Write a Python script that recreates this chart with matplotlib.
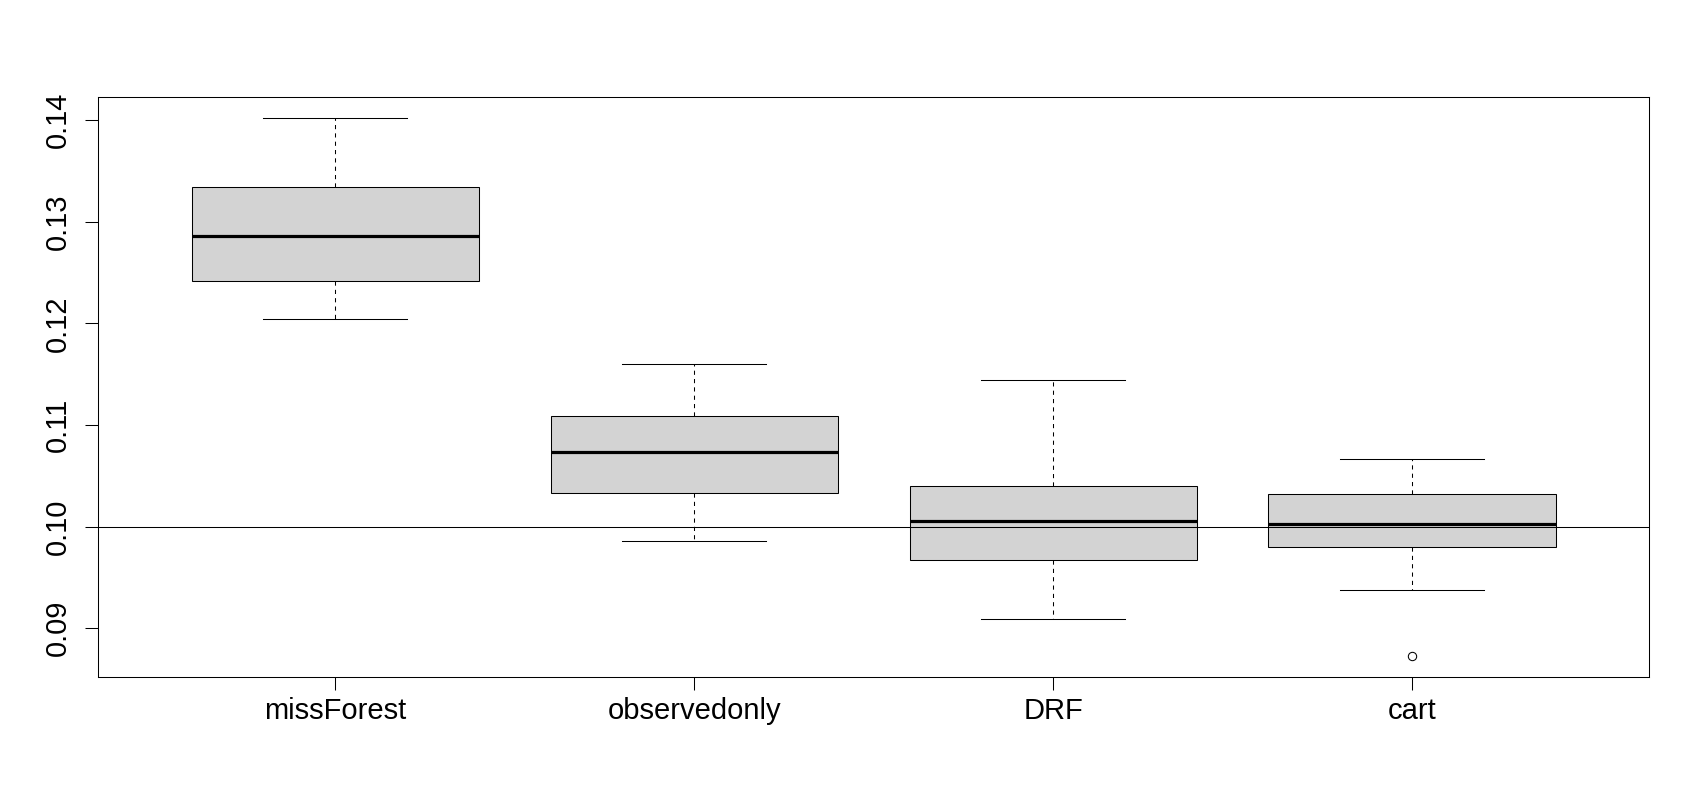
import matplotlib
matplotlib.use("Agg")
import matplotlib.pyplot as plt

plt.rcParams['font.family'] = ['Liberation Sans', 'DejaVu Sans']

# five-number summaries
methods = ['missForest', 'observedonly', 'DRF', 'cart']
whisk_lo = [0.12044, 0.09857, 0.09091, 0.09376]
q1 = [0.12419, 0.10330, 0.09672, 0.09800]
median = [0.12862, 0.10734, 0.10056, 0.10027]
q3 = [0.13345, 0.11089, 0.10401, 0.10322]
whisk_hi = [0.14015, 0.11601, 0.11444, 0.10667]
outliers = [[], [], [], [0.08729]]
ref_line = 0.10
yticks = [0.09, 0.10, 0.11, 0.12, 0.13, 0.14]

stats = []
for i, name in enumerate(methods):
    stats.append(dict(label=name, whislo=whisk_lo[i], q1=q1[i], med=median[i],
                      q3=q3[i], whishi=whisk_hi[i], fliers=outliers[i]))

fig = plt.figure(figsize=(17, 8), dpi=100)
ax = fig.add_axes([0.0578, 0.1535, 0.9122, 0.7253])

positions = list(range(1, len(methods) + 1))
ax.bxp(stats, positions=positions, widths=0.8, capwidths=0.4, patch_artist=True,
       boxprops=dict(facecolor='#d3d3d3', edgecolor='black', linewidth=0.75),
       medianprops=dict(color='black', linewidth=2.3, solid_capstyle='butt'),
       whiskerprops=dict(color='black', linewidth=0.75, linestyle=(0, (4, 4))),
       capprops=dict(color='black', linewidth=0.75),
       flierprops=dict(marker='o', markersize=6, markerfacecolor='none',
                       markeredgecolor='black', markeredgewidth=0.75))

ax.axhline(ref_line, color='black', linewidth=0.75, zorder=5)

# R-style axis ranges (4% padding)
lo = min(min(whisk_lo), min(min(o) for o in outliers if o))
hi = max(whisk_hi)
pad = 0.04 * (hi - lo)
ax.set_ylim(lo - pad, hi + pad)
n = len(methods)
ax.set_xlim(0.5 - 0.04 * n, n + 0.5 + 0.04 * n)

ax.set_xticks(positions)
ax.set_xticklabels(methods)
ax.set_yticks(yticks)
ax.set_yticklabels([f'{v:.2f}' for v in yticks], rotation=90, va='center')

ax.tick_params(axis='both', direction='out', length=9.2, width=0.75,
               labelsize=21, colors='black')
ax.tick_params(axis='x', pad=5)
ax.tick_params(axis='y', pad=10)
for s in ax.spines.values():
    s.set_linewidth(0.75)

plt.savefig('out.png', dpi=100)
